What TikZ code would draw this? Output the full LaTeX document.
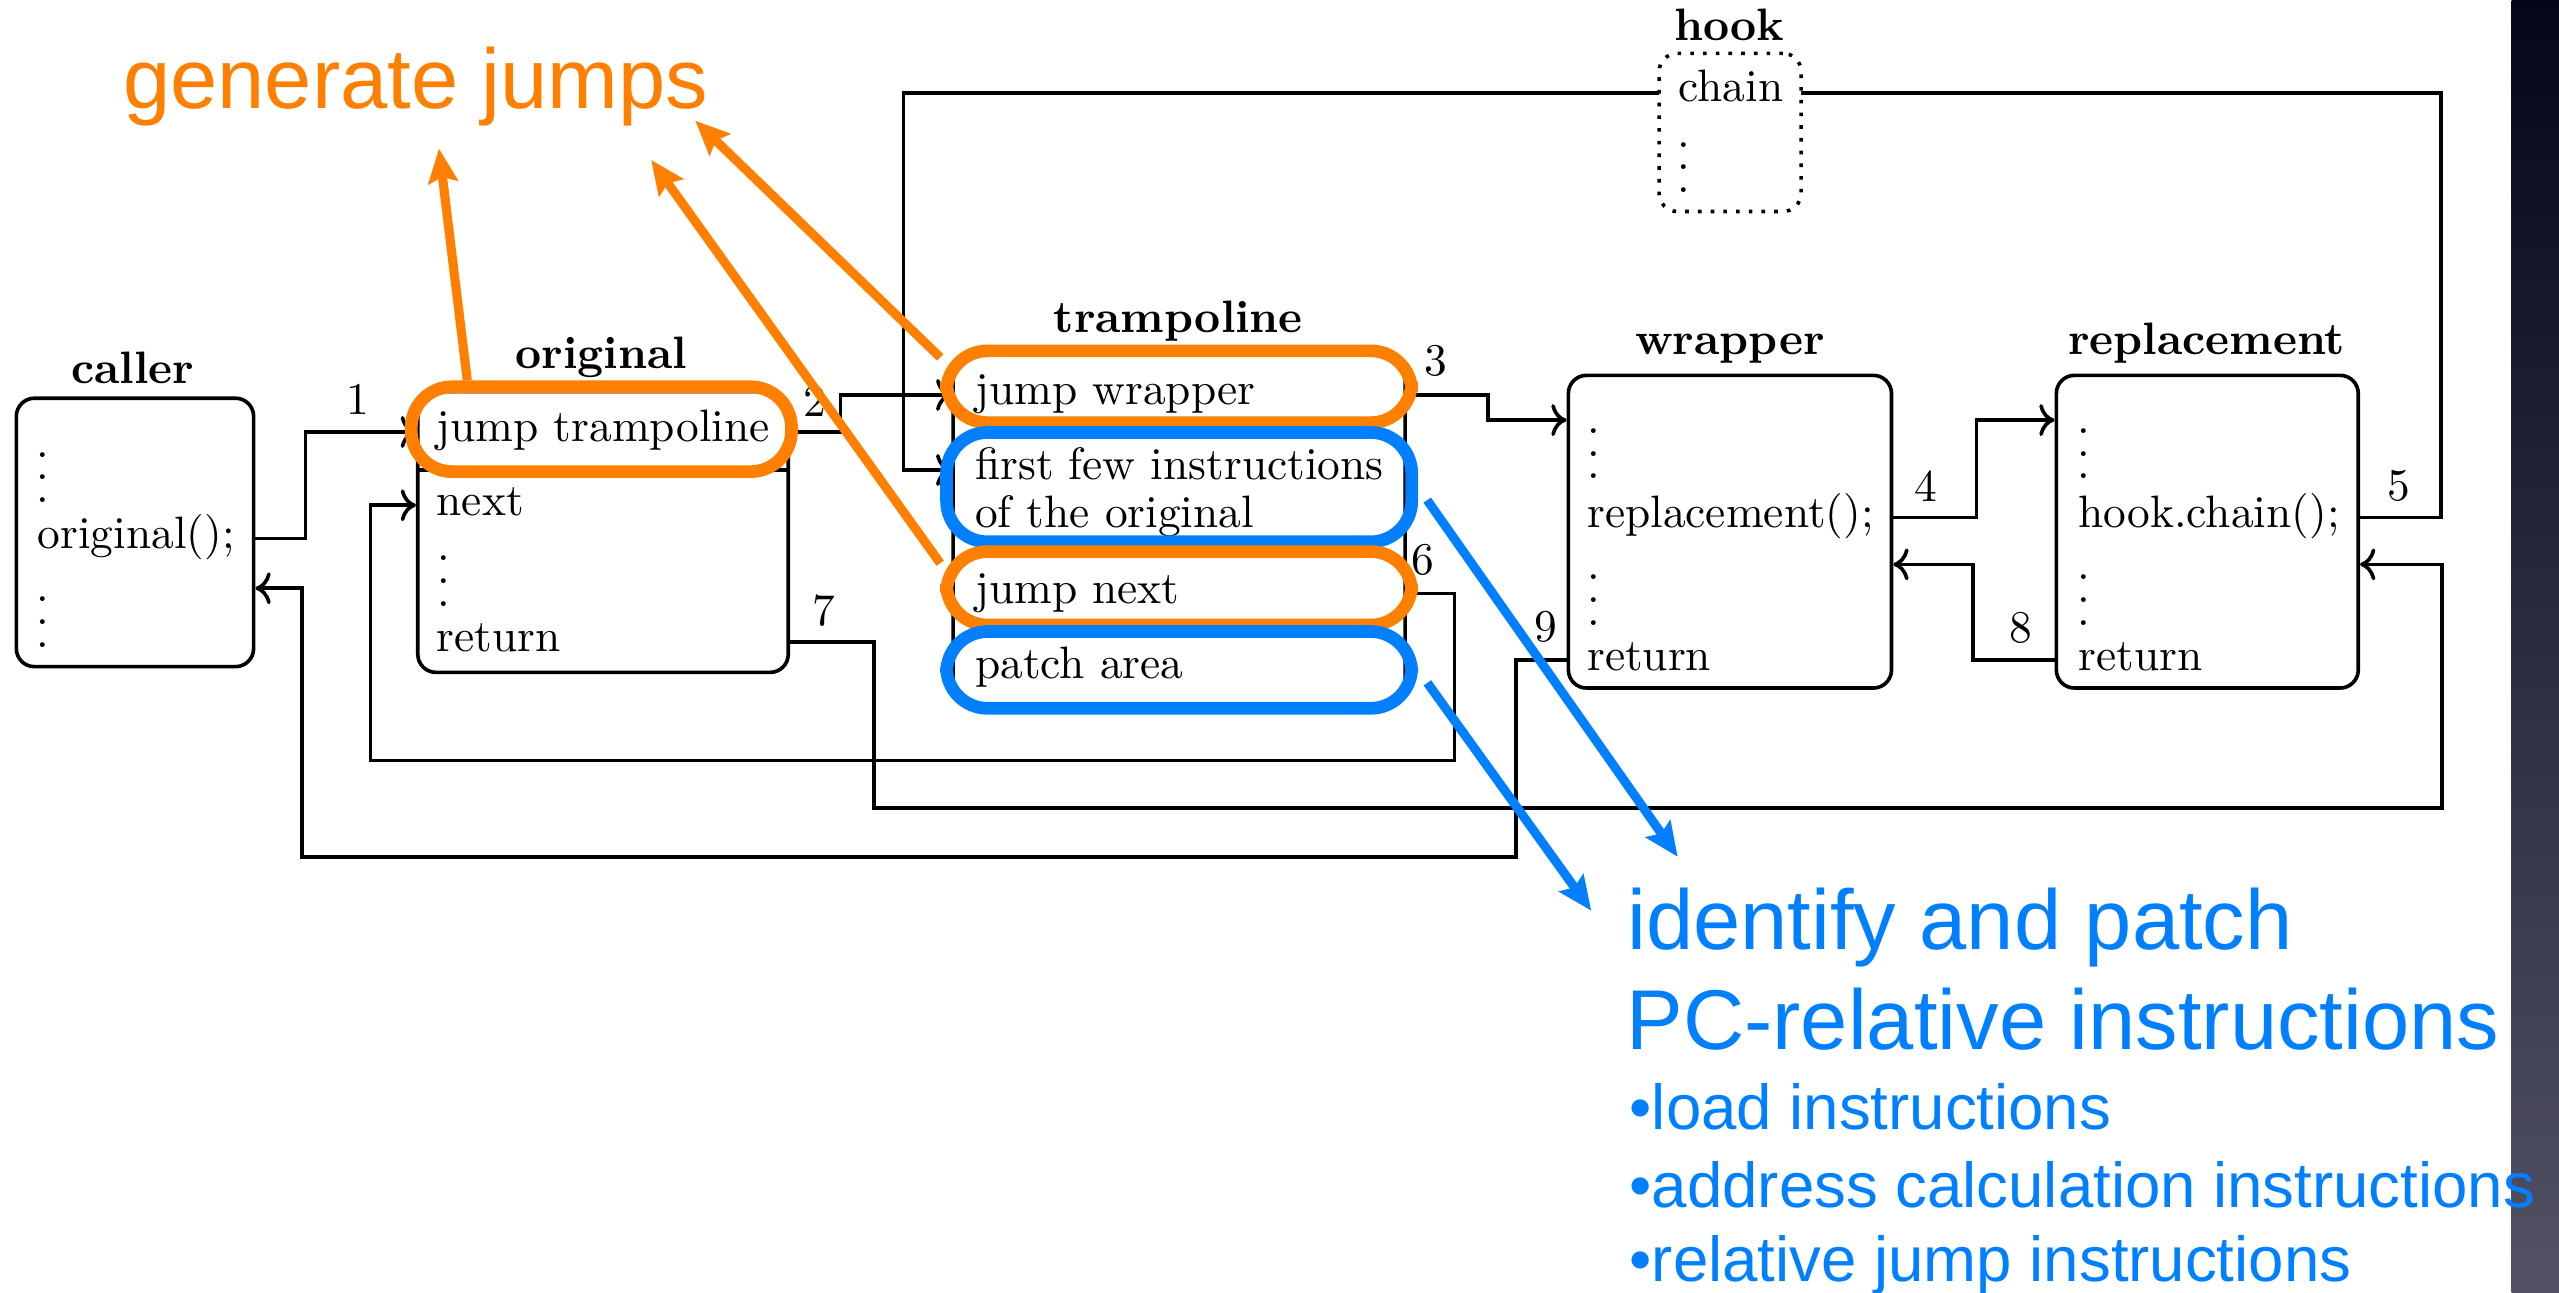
\documentclass[tikz,border=0pt]{standalone}
\usepackage{fontspec}
\newfontfamily\slidefont{Liberation Sans}
\usetikzlibrary{arrows.meta,fit}
\definecolor{hlorange}{RGB}{255,128,0}
\definecolor{hlblue}{RGB}{0,128,255}
\definecolor{stripTop}{RGB}{6,6,26}
\definecolor{stripBot}{RGB}{82,82,100}
\newcommand{\vdts}{\vbox{\baselineskip=5pt\lineskip=0pt\hbox{.}\hbox{.}\hbox{.}}}

\begin{document}
\begin{tikzpicture}[
    x=0.01264cm, y=-0.01264cm,
    box/.style={draw, thick, rounded corners=4pt, fill=white, inner sep=0pt},
    hookbox/.style={draw, thick, dotted, rounded corners=4pt, fill=white, inner sep=0pt},
    title/.style={anchor=base, font=\bfseries, inner sep=0pt},
    code/.style={anchor=base west, inner sep=0pt},
    dots/.style={anchor=base west, inner sep=0pt},
    num/.style={inner sep=0pt},
    link/.style={->, thick},
    ring/.style={line width=2.8pt, rounded corners=9pt, inner sep=0pt},
    callout/.style={line width=2pt, -{Stealth[length=7.5pt, width=6.5pt, inset=1.2pt]}},
    slidebig/.style={anchor=base west, inner sep=0pt, font=\slidefont\fontsize{18.7pt}{22pt}\selectfont},
    slidesmall/.style={anchor=base west, inner sep=0pt, font=\slidefont\fontsize{14pt}{17pt}\selectfont}
]
    % Background
    \fill[white] (0,0) rectangle (1568,792);
    \useasboundingbox (0,0) rectangle (1568,792);
    \shade[top color=stripTop, bottom color=stripBot] (1539,0) rectangle (1568,792);

    % Caller
    \node[title] (callerT) at (81.4,234.7) {caller};
    \node[box, fit={(10,244) (155.4,408.5)}] (caller) {};
    \node[dots] (callerD1) at (22.1,308) {\vdts};
    \node[code] (callerCall) at (22.6,336) {original();};
    \node[dots] (callerD2) at (22.1,396.5) {\vdts};

    % Original
    \node[title] (origT) at (368.6,226) {original};
    \node[box, fit={(256,240) (483,412)}] (orig) {};
    \draw[thick] (256,288) -- (483,288);
    \node[code] (origJump) at (267,270.7) {jump trampoline};
    \node[code] (origNext) at (267,315.6) {next};
    \node[dots] (origD) at (267.7,371.5) {\vdts};
    \node[code] (origRet) at (267,399.5) {return};

    % Trampoline
    \node[title] (trampT) at (722,204) {trampoline};
    \node[box, fit={(584,217) (861,432)}] (tramp) {};
    \node[code] (trWrap) at (597,248) {jump wrapper};
    \node[code] (trFirst) at (597,294) {first few instructions};
    \node[code] (trFirstB) at (597,323) {of the original};
    \node[code] (trNext) at (597,369.7) {jump next};
    \node[code] (trPatch) at (597,415.6) {patch area};

    % Wrapper
    \node[title] (wrapT) at (1060,217.5) {wrapper};
    \node[box, fit={(961,230) (1159,421.6)}] (wrap) {};
    \node[dots] (wrD1) at (972.1,293.5) {\vdts};
    \node[code] (wrCall) at (972,323) {replacement();};
    \node[dots] (wrD2) at (972.1,383) {\vdts};
    \node[code] (wrRet) at (972,410.6) {return};

    % Replacement
    \node[title] (replT) at (1352,217.5) {replacement};
    \node[box, fit={(1260,230) (1445,421.6)}] (repl) {};
    \node[dots] (rpD1) at (1272.1,293.5) {\vdts};
    \node[code] (rpCall) at (1273,323) {hook.chain();};
    \node[dots] (rpD2) at (1272.1,383) {\vdts};
    \node[code] (rpRet) at (1273,410.6) {return};

    % Arrows
    \coordinate (topR) at (1495.6,57);
    \coordinate (topL) at (553.6,57);
    \draw[link] (caller.east |- callerCall.mid) -- ++(30.6,0) |- (orig.west |- origJump.mid);
    \draw[link] (orig.east |- origJump.mid) -- ++(31,0) |- (tramp.west |- trWrap.mid);
    \draw[link] (tramp.east |- trWrap.mid) -- ++(49.5,0) |- ([yshift=-10.25pt]wrap.north west);
    \draw[link] (wrap.east |- wrCall.mid) -- ++(51,0) |- ([yshift=-10.25pt]repl.north west);
    \draw[link] (repl.east |- rpCall.mid) -| (topR) -- (topL) |- (tramp.west |- trFirst.mid);
    \draw[link] (tramp.east |- trNext.mid) -- ++(29,0) |- ++(-664.2,102.2) |- (orig.west |- origNext.mid);
    \draw[link] (orig.east |- origRet.mid) -- ++(51.5,0) |- ++(960.5,101.5) |- ([yshift=-7.2pt]repl.east);
    \draw[link] (repl.west |- rpRet.mid) -- ++(-50,0) |- ([yshift=-7.2pt]wrap.east);
    \draw[link] (wrap.west |- wrRet.mid) -- ++(-31,0) |- ++(-744,120.4) |- ([yshift=-12.3pt]caller.east);

    % Step numbers
    \node[num] (n1) at (219,245) {1};
    \node[num] (n2) at (499,246) {2};
    \node[num] (n3) at (880,221) {3};
    \node[num] (n4) at (1180,298) {4};
    \node[num] (n5) at (1470,298) {5};
    \node[num] (n6) at (872,343) {6};
    \node[num] (n7) at (505,374) {7};
    \node[num] (n8) at (1238,385) {8};
    \node[num] (n9) at (947,384) {9};

    % Hook
    \node[title] (hookT) at (1059.5,24.9) {hook};
    \node[hookbox, fit={(1016.6,32.7) (1103.6,129.6)}] (hook) {};
    \node[code] (hookChain) at (1028,62.3) {chain};
    \node[dots] (hookD) at (1027.1,118) {\vdts};

    % Highlights
    \node[ring, draw=hlorange, fit={(252,237) (485,289)}] (ringJump) {};
    \node[ring, draw=hlorange, fit={(580,215) (865,259)}] (ringWrap) {};
    \node[ring, draw=hlblue, fit={(580,265) (865,332)}] (ringFirst) {};
    \node[ring, draw=hlorange, fit={(580,338) (865,383)}] (ringNext) {};
    \node[ring, draw=hlblue, fit={(580,387) (865,434)}] (ringPatch) {};

    % Slide notes
    \node[slidebig, text=hlorange] (genJumps) at (75,66.5) {generate jumps};
    \node[slidebig, text=hlblue] (patchHead) at (996.5,582) {identify and patch};
    \node[slidebig, text=hlblue] (patchHeadB) at (996,643) {PC-relative instructions};
    \node[slidesmall, text=hlblue] (patchLoad) at (998,692) {•load instructions};
    \node[slidesmall, text=hlblue] (patchAddr) at (998,740) {•address calculation instructions};
    \node[slidesmall, text=hlblue] (patchRel) at (998,785) {•relative jump instructions};

    % Callouts
    \coordinate (genTipA) at (269,91);
    \coordinate (genTipB) at (399,98);
    \coordinate (genTipC) at (426,74);
    \coordinate (patchTipA) at (1028,525);
    \coordinate (patchTipB) at (975,558);
    \draw[callout, hlorange] (ringJump.160) -- (genTipA);
    \draw[callout, hlorange] (ringNext.174) -- (genTipB);
    \draw[callout, hlorange] (ringWrap.173) -- (genTipC);
    \draw[callout, hlblue, shorten <=3.5pt] (ringFirst.east) -- (patchTipA);
    \draw[callout, hlblue, shorten <=3.5pt] (ringPatch.east) -- (patchTipB);
\end{tikzpicture}
\end{document}
